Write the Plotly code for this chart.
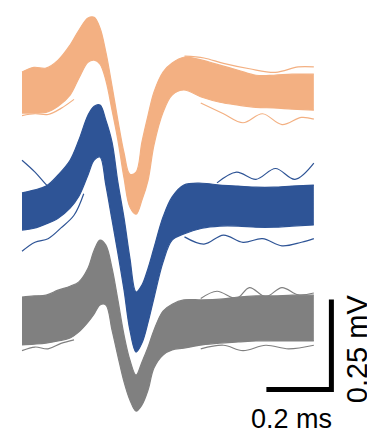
import plotly.graph_objects as go

# time points (ms)
t = [0, 0.037, 0.074, 0.111, 0.148, 0.175, 0.203, 0.222, 0.240, 0.258, 0.277, 0.295, 0.314, 0.332,
     0.351, 0.369, 0.388, 0.406, 0.434, 0.462, 0.498, 0.554, 0.609, 0.665, 0.720, 0.775, 0.831, 0.898]

# envelopes of the waveform clouds (mV, relative to each unit's baseline)
orange_upper = [0.056, 0.069, 0.067, 0.089, 0.131, 0.172, 0.206, 0.208, 0.178, 0.111, 0.017, -0.078, -0.169, -0.228,
                -0.222, -0.139, -0.064, 0.000, 0.056, 0.081, 0.097, 0.089, 0.075, 0.061, 0.047, 0.047, 0.050, 0.050]
orange_lower = [-0.058, -0.058, -0.056, -0.039, -0.008, 0.039, 0.083, 0.089, 0.078, 0.033, -0.050, -0.133, -0.239, -0.319,
                -0.339, -0.300, -0.244, -0.147, -0.056, -0.008, 0.006, -0.014, -0.028, -0.036, -0.042, -0.044, -0.047, -0.050]

blue_upper = [0.042, 0.050, 0.061, 0.092, 0.133, 0.189, 0.258, 0.283, 0.286, 0.244, 0.183, 0.072, -0.028, -0.139,
              -0.233, -0.214, -0.167, -0.111, -0.025, 0.031, 0.064, 0.069, 0.064, 0.061, 0.058, 0.058, 0.061, 0.064]
blue_lower = [-0.061, -0.056, -0.044, -0.028, 0.000, 0.033, 0.092, 0.133, 0.142, 0.064, -0.033, -0.125, -0.228, -0.339,
              -0.400, -0.375, -0.317, -0.250, -0.150, -0.089, -0.072, -0.056, -0.050, -0.050, -0.053, -0.053, -0.050, -0.047]

gray_upper = [0.064, 0.067, 0.069, 0.083, 0.094, 0.106, 0.144, 0.194, 0.222, 0.208, 0.144, 0.056, -0.042, -0.111,
              -0.153, -0.117, -0.075, -0.028, 0.025, 0.044, 0.056, 0.056, 0.058, 0.064, 0.067, 0.067, 0.069, 0.069]
gray_lower = [-0.069, -0.067, -0.064, -0.058, -0.050, -0.033, -0.006, 0.017, 0.042, 0.042, -0.028, -0.100, -0.172, -0.222,
              -0.253, -0.236, -0.194, -0.133, -0.097, -0.083, -0.078, -0.069, -0.064, -0.061, -0.058, -0.058, -0.058, -0.058]

# a few individual outlying waveforms (partial), (times, values)
orange_outliers = [
    ([0.55, 0.62, 0.68, 0.74, 0.80, 0.86, 0.898], [-0.03, -0.06, -0.085, -0.06, -0.09, -0.07, -0.075]),
    ([0.50, 0.56, 0.62, 0.70, 0.78, 0.85, 0.898], [0.10, 0.095, 0.08, 0.065, 0.055, 0.07, 0.07]),
    ([0.0, 0.04, 0.08, 0.12, 0.16], [-0.065, -0.06, -0.062, -0.045, -0.02]),
]
blue_outliers = [
    ([0.0, 0.04, 0.08, 0.12, 0.16], [0.133, 0.10, 0.06, 0.03, 0.06]),
    ([0.60, 0.66, 0.72, 0.78, 0.84, 0.898], [0.07, 0.10, 0.08, 0.11, 0.08, 0.125]),
    ([0.50, 0.56, 0.62, 0.68, 0.74, 0.80, 0.86, 0.898], [-0.08, -0.10, -0.075, -0.095, -0.085, -0.105, -0.095, -0.085]),
    ([0.0, 0.04, 0.08, 0.12, 0.16, 0.19], [-0.12, -0.095, -0.085, -0.055, -0.02, 0.04]),
]
gray_outliers = [
    ([0.55, 0.60, 0.66, 0.70, 0.75, 0.80, 0.85, 0.898], [0.06, 0.08, 0.06, 0.09, 0.065, 0.09, 0.07, 0.075]),
    ([0.0, 0.04, 0.08, 0.12, 0.16], [-0.085, -0.075, -0.08, -0.065, -0.055]),
    ([0.55, 0.62, 0.68, 0.75, 0.82, 0.898], [-0.08, -0.07, -0.085, -0.07, -0.08, -0.07]),
]

# vertical stacking offset of each unit (mV)
units = [
    ("gray", -0.889, gray_upper, gray_lower, gray_outliers, "#808080"),
    ("blue", -0.578, blue_upper, blue_lower, blue_outliers, "#2E5496"),
    ("orange", -0.256, orange_upper, orange_lower, orange_outliers, "#F3B082"),
]

scale_ms = 0.2
scale_mv = 0.25

fig = go.Figure()
for name, off, up, lo, outs, col in units:
    for ot, ov in outs:
        fig.add_trace(go.Scatter(x=ot, y=[v + off for v in ov], mode="lines",
                                 line=dict(color=col, width=1.2, shape="spline"),
                                 showlegend=False, hoverinfo="skip"))
    fig.add_trace(go.Scatter(x=t, y=[v + off for v in up], mode="lines",
                             line=dict(color=col, width=1.2, shape="spline"),
                             showlegend=False, hoverinfo="skip"))
    fig.add_trace(go.Scatter(x=t, y=[v + off for v in lo], mode="lines", fill="tonexty",
                             fillcolor=col, line=dict(color=col, width=1.2, shape="spline"),
                             showlegend=False, hoverinfo="skip"))

# scale bar
bx0, by0 = 0.752, -1.082
fig.add_trace(go.Scatter(x=[bx0, bx0 + scale_ms, bx0 + scale_ms],
                         y=[by0, by0, by0 + scale_mv], mode="lines",
                         line=dict(color="black", width=5), showlegend=False, hoverinfo="skip"))

fig.add_annotation(x=0.828, y=-1.163, text="0.2 ms", showarrow=False,
                   font=dict(family="Liberation Sans, Arial", size=27, color="black"))
fig.add_annotation(x=1.029, y=-0.969, text="0.25 mV", showarrow=False, textangle=-90,
                   font=dict(family="Liberation Sans, Arial", size=29, color="black"))

# the page body has an 8 px margin, so the figure is 8 px smaller and the ranges start 8 px in
fig.update_layout(
    width=367, height=425, margin=dict(l=0, r=0, t=0, b=0),
    paper_bgcolor="white", plot_bgcolor="white",
    xaxis=dict(range=[-0.0431, 1.0862], visible=False, fixedrange=True),
    yaxis=dict(range=[-1.2028, -0.0222], visible=False, fixedrange=True),
)
fig.write_html("out.html")
